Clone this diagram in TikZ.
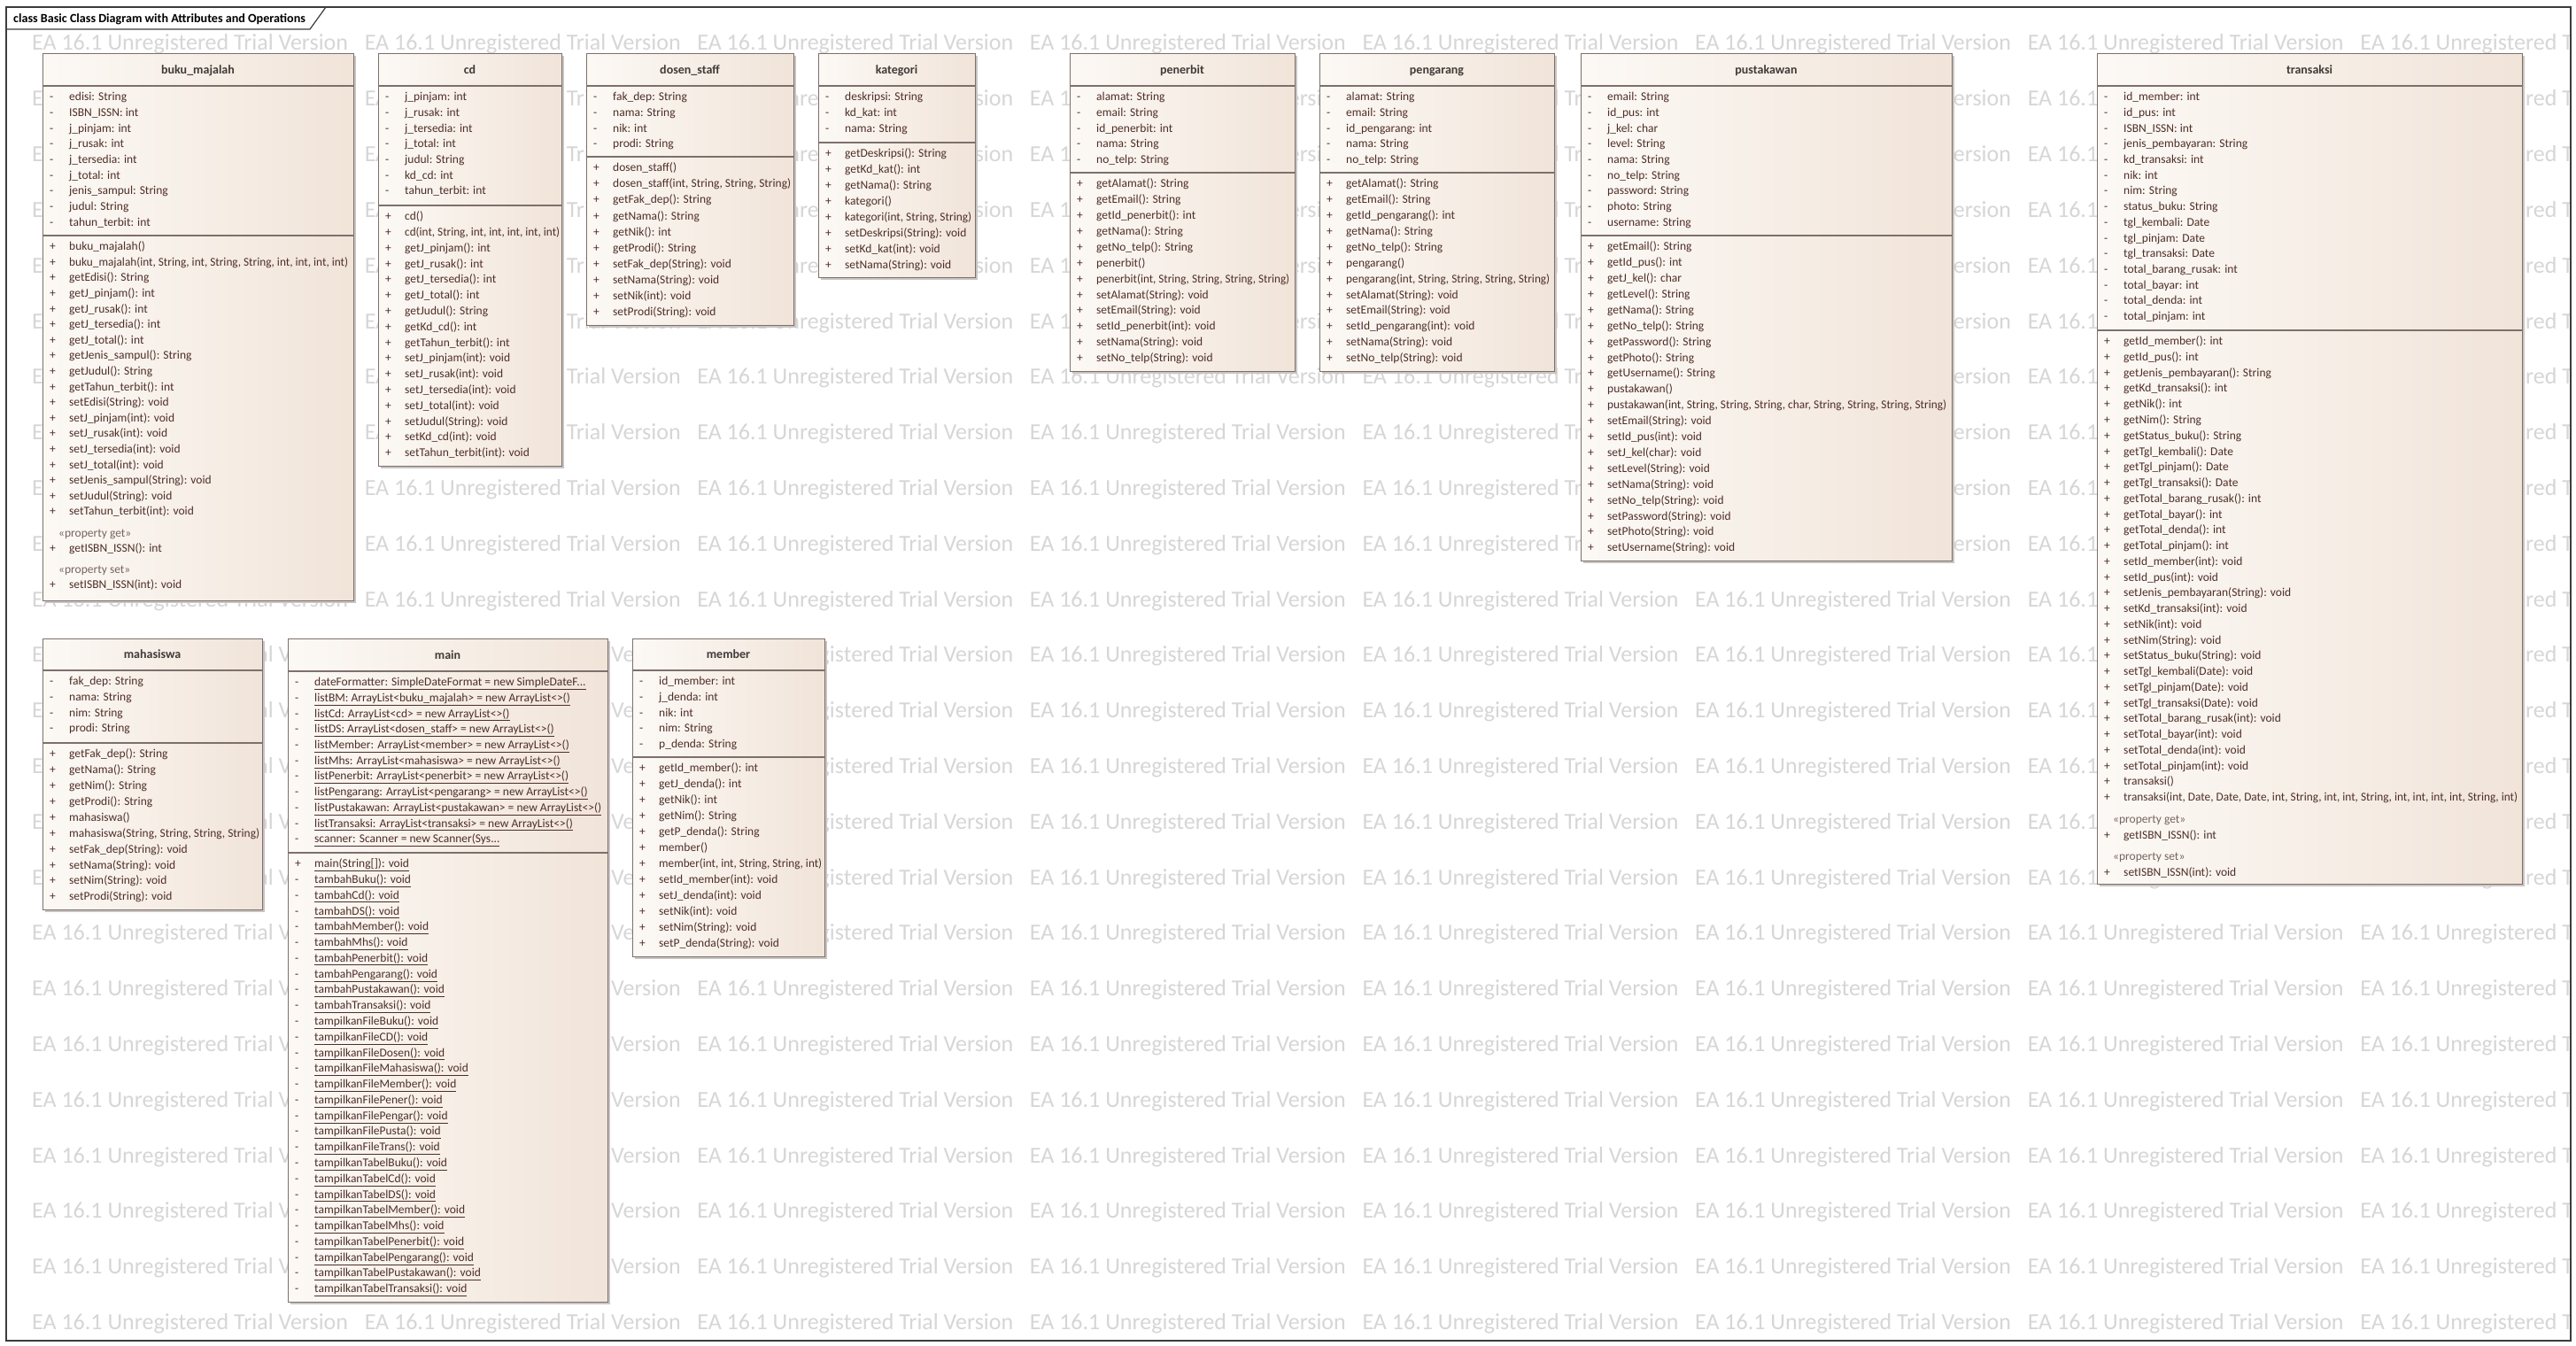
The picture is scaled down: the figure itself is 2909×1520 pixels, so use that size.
\documentclass[tikz,border=0pt]{standalone}
\usepackage{fontspec}
\usepackage{graphicx}
\setmainfont{Carlito}
\usetikzlibrary{calc}
\definecolor{memc}{RGB}{78,46,40}
\definecolor{titc}{RGB}{64,58,56}
\definecolor{stc}{RGB}{120,100,95}
\definecolor{bordc}{RGB}{125,112,108}
\definecolor{fillL}{RGB}{252,249,245}
\definecolor{fillR}{RGB}{241,228,217}
\definecolor{wmc}{RGB}{214,214,214}
\definecolor{shdc}{RGB}{200,196,194}
\definecolor{framec}{RGB}{60,60,60}

\newcommand\vneg{\makebox[22pt][l]{-}}
\newcommand\vpos{\makebox[22pt][l]{+}}
\newcommand\stereo[1]{\hspace*{10pt}\textcolor{stc}{«#1»}}
\newcommand\undl[1]{\underline{#1}}
\newcommand\fitw[2]{\resizebox{#1pt}{\height}{#2}}
\newcommand\wmone{\makebox[375.6pt][l]{EA 16.1 Unregistered Trial Version}}
\newcommand\wmline{\wmone\wmone\wmone\wmone\wmone\wmone\wmone\wmone}

\tikzset{
  clsbox/.style={draw=bordc, line width=1.2pt, left color=fillL, right color=fillR, inner sep=0pt},
  sepl/.style={draw=bordc, line width=1.2pt},
  clstitle/.style={text=titc, inner sep=0pt, font=\bfseries\fontsize{14}{16}\selectfont},
  memtext/.style={text=memc, inner sep=0pt, align=left},
  wmark/.style={text=wmc, inner sep=0pt, font=\fontsize{26}{30}\selectfont},
  framel/.style={draw=framec, line width=1.2pt},
  tabtext/.style={text=black, inner sep=0pt, font=\bfseries\fontsize{14.1}{16}\selectfont}
}

% name, xl, yt, xr, s1, s2, yb, title
\newcommand\umlbox[8]{%
  \fill[shdc] (#2+3,#3+3) rectangle (#4+3,#7+3);
  \node[clsbox, anchor=north west, minimum width={#4-#2}, minimum height={#7-#3}] (#1) at (#2,#3) {};
  \draw[sepl] (#2,#5) -- (#4,#5);
  \draw[sepl] (#2,#6) -- (#4,#6);
  \node[clstitle, anchor=base] (#1-title) at ({(#2+#4)/2},{(#3+#5)/2+4.5}) {#8};
}
% name, x, y, pitch, content
\newcommand\umllines[5]{%
  \node[memtext, anchor=north west, font=\fontsize{13.5}{#4}\selectfont] (#1) at (#2,#3) {\rule{0pt}{12.5pt}#5};
}

\begin{document}
\begin{tikzpicture}[x=1pt,y=-1pt]
\fill[white] (0,0) rectangle (2909,1520);
\useasboundingbox (0,0) rectangle (2909,1520);

% watermark
\begin{scope}
\clip (7,8) rectangle (2903,1514);
\foreach \k in {0,...,23}{
  \node[wmark, anchor=base west] (wm\k) at (36,{57+62.8*\k}) {\wmline};
}
\end{scope}

% frame and tab
\draw[framel] (7,8) rectangle (2903,1514);
\draw[framel] (7,33) -- (350,33) -- (368,8);
\node[tabtext, anchor=base west] (tabtitle) at (15,26) {class Basic Class Diagram with Attributes and Operations};

% buku_majalah
\umlbox{buku}{48}{60}{399}{97}{266}{678}{buku\_majalah}
\umllines{buku-attr}{56}{101}{17.7}{\vneg edisi: String\\
\vneg ISBN\_ISSN: int\\
\vneg j\_pinjam: int\\
\vneg j\_rusak: int\\
\vneg j\_tersedia: int\\
\vneg j\_total: int\\
\vneg jenis\_sampul: String\\
\vneg judul: String\\
\vneg tahun\_terbit: int}
\umllines{buku-ops}{56}{270}{17.6}{\vpos buku\_majalah()\\
\vpos \fitw{315}{buku\_majalah(int, String, int, String, String, int, int, int, int)}\\
\vpos getEdisi(): String\\
\vpos getJ\_pinjam(): int\\
\vpos getJ\_rusak(): int\\
\vpos getJ\_tersedia(): int\\
\vpos getJ\_total(): int\\
\vpos getJenis\_sampul(): String\\
\vpos getJudul(): String\\
\vpos getTahun\_terbit(): int\\
\vpos setEdisi(String): void\\
\vpos setJ\_pinjam(int): void\\
\vpos setJ\_rusak(int): void\\
\vpos setJ\_tersedia(int): void\\
\vpos setJ\_total(int): void\\
\vpos setJenis\_sampul(String): void\\
\vpos setJudul(String): void\\
\vpos setTahun\_terbit(int): void\\[6.5pt]
\stereo{property get}\\
\vpos getISBN\_ISSN(): int\\[6pt]
\stereo{property set}\\
\vpos setISBN\_ISSN(int): void}

% cd
\umlbox{cd}{427}{60}{634}{97}{232}{526}{cd}
\umllines{cd-attr}{435}{101}{17.7}{\vneg j\_pinjam: int\\
\vneg j\_rusak: int\\
\vneg j\_tersedia: int\\
\vneg j\_total: int\\
\vneg judul: String\\
\vneg kd\_cd: int\\
\vneg tahun\_terbit: int}
\umllines{cd-ops}{435}{236}{17.8}{\vpos cd()\\
\vpos \fitw{175}{cd(int, String, int, int, int, int, int)}\\
\vpos getJ\_pinjam(): int\\
\vpos getJ\_rusak(): int\\
\vpos getJ\_tersedia(): int\\
\vpos getJ\_total(): int\\
\vpos getJudul(): String\\
\vpos getKd\_cd(): int\\
\vpos getTahun\_terbit(): int\\
\vpos setJ\_pinjam(int): void\\
\vpos setJ\_rusak(int): void\\
\vpos setJ\_tersedia(int): void\\
\vpos setJ\_total(int): void\\
\vpos setJudul(String): void\\
\vpos setKd\_cd(int): void\\
\vpos setTahun\_terbit(int): void}

% dosen_staff
\umlbox{dosen}{662}{60}{896}{97}{177}{367}{dosen\_staff}
\umllines{dosen-attr}{670}{101}{17.7}{\vneg fak\_dep: String\\
\vneg nama: String\\
\vneg nik: int\\
\vneg prodi: String}
\umllines{dosen-ops}{670}{181}{18.1}{\vpos dosen\_staff()\\
\vpos \fitw{201}{dosen\_staff(int, String, String, String)}\\
\vpos getFak\_dep(): String\\
\vpos getNama(): String\\
\vpos getNik(): int\\
\vpos getProdi(): String\\
\vpos setFak\_dep(String): void\\
\vpos setNama(String): void\\
\vpos setNik(int): void\\
\vpos setProdi(String): void}

% kategori
\umlbox{kategori}{924}{60}{1101}{97}{161}{313}{kategori}
\umllines{kategori-attr}{932}{101}{17.7}{\vneg deskripsi: String\\
\vneg kd\_kat: int\\
\vneg nama: String}
\umllines{kategori-ops}{932}{165}{17.9}{\vpos getDeskripsi(): String\\
\vpos getKd\_kat(): int\\
\vpos getNama(): String\\
\vpos kategori()\\
\vpos \fitw{143}{kategori(int, String, String)}\\
\vpos setDeskripsi(String): void\\
\vpos setKd\_kat(int): void\\
\vpos setNama(String): void}

% penerbit
\umlbox{penerbit}{1208}{60}{1462}{97}{195}{419}{penerbit}
\umllines{penerbit-attr}{1216}{101}{17.7}{\vneg alamat: String\\
\vneg email: String\\
\vneg id\_penerbit: int\\
\vneg nama: String\\
\vneg no\_telp: String}
\umllines{penerbit-ops}{1216}{199}{17.9}{\vpos getAlamat(): String\\
\vpos getEmail(): String\\
\vpos getId\_penerbit(): int\\
\vpos getNama(): String\\
\vpos getNo\_telp(): String\\
\vpos penerbit()\\
\vpos \fitw{218}{penerbit(int, String, String, String, String)}\\
\vpos setAlamat(String): void\\
\vpos setEmail(String): void\\
\vpos setId\_penerbit(int): void\\
\vpos setNama(String): void\\
\vpos setNo\_telp(String): void}

% pengarang
\umlbox{pengarang}{1490}{60}{1755}{97}{195}{419}{pengarang}
\umllines{pengarang-attr}{1498}{101}{17.7}{\vneg alamat: String\\
\vneg email: String\\
\vneg id\_pengarang: int\\
\vneg nama: String\\
\vneg no\_telp: String}
\umllines{pengarang-ops}{1498}{199}{17.9}{\vpos getAlamat(): String\\
\vpos getEmail(): String\\
\vpos getId\_pengarang(): int\\
\vpos getNama(): String\\
\vpos getNo\_telp(): String\\
\vpos pengarang()\\
\vpos \fitw{230}{pengarang(int, String, String, String, String)}\\
\vpos setAlamat(String): void\\
\vpos setEmail(String): void\\
\vpos setId\_pengarang(int): void\\
\vpos setNama(String): void\\
\vpos setNo\_telp(String): void}

% pustakawan
\umlbox{pustakawan}{1785}{60}{2204}{97}{266}{633}{pustakawan}
\umllines{pustakawan-attr}{1793}{101}{17.7}{\vneg email: String\\
\vneg id\_pus: int\\
\vneg j\_kel: char\\
\vneg level: String\\
\vneg nama: String\\
\vneg no\_telp: String\\
\vneg password: String\\
\vneg photo: String\\
\vneg username: String}
\umllines{pustakawan-ops}{1793}{270}{17.9}{\vpos getEmail(): String\\
\vpos getId\_pus(): int\\
\vpos getJ\_kel(): char\\
\vpos getLevel(): String\\
\vpos getNama(): String\\
\vpos getNo\_telp(): String\\
\vpos getPassword(): String\\
\vpos getPhoto(): String\\
\vpos getUsername(): String\\
\vpos pustakawan()\\
\vpos \fitw{383}{pustakawan(int, String, String, String, char, String, String, String, String)}\\
\vpos setEmail(String): void\\
\vpos setId\_pus(int): void\\
\vpos setJ\_kel(char): void\\
\vpos setLevel(String): void\\
\vpos setNama(String): void\\
\vpos setNo\_telp(String): void\\
\vpos setPassword(String): void\\
\vpos setPhoto(String): void\\
\vpos setUsername(String): void}

% transaksi
\umlbox{transaksi}{2368}{60}{2848}{97}{373}{998}{transaksi}
\umllines{transaksi-attr}{2376}{101}{17.7}{\vneg id\_member: int\\
\vneg id\_pus: int\\
\vneg ISBN\_ISSN: int\\
\vneg jenis\_pembayaran: String\\
\vneg kd\_transaksi: int\\
\vneg nik: int\\
\vneg nim: String\\
\vneg status\_buku: String\\
\vneg tgl\_kembali: Date\\
\vneg tgl\_pinjam: Date\\
\vneg tgl\_transaksi: Date\\
\vneg total\_barang\_rusak: int\\
\vneg total\_bayar: int\\
\vneg total\_denda: int\\
\vneg total\_pinjam: int}
\umllines{transaksi-ops}{2376}{377}{17.76}{\vpos getId\_member(): int\\
\vpos getId\_pus(): int\\
\vpos getJenis\_pembayaran(): String\\
\vpos getKd\_transaksi(): int\\
\vpos getNik(): int\\
\vpos getNim(): String\\
\vpos getStatus\_buku(): String\\
\vpos getTgl\_kembali(): Date\\
\vpos getTgl\_pinjam(): Date\\
\vpos getTgl\_transaksi(): Date\\
\vpos getTotal\_barang\_rusak(): int\\
\vpos getTotal\_bayar(): int\\
\vpos getTotal\_denda(): int\\
\vpos getTotal\_pinjam(): int\\
\vpos setId\_member(int): void\\
\vpos setId\_pus(int): void\\
\vpos setJenis\_pembayaran(String): void\\
\vpos setKd\_transaksi(int): void\\
\vpos setNik(int): void\\
\vpos setNim(String): void\\
\vpos setStatus\_buku(String): void\\
\vpos setTgl\_kembali(Date): void\\
\vpos setTgl\_pinjam(Date): void\\
\vpos setTgl\_transaksi(Date): void\\
\vpos setTotal\_barang\_rusak(int): void\\
\vpos setTotal\_bayar(int): void\\
\vpos setTotal\_denda(int): void\\
\vpos setTotal\_pinjam(int): void\\
\vpos transaksi()\\
\vpos \fitw{445}{transaksi(int, Date, Date, Date, int, String, int, int, String, int, int, int, int, String, int)}\\[7pt]
\stereo{property get}\\
\vpos getISBN\_ISSN(): int\\[6.5pt]
\stereo{property set}\\
\vpos setISBN\_ISSN(int): void}

% mahasiswa
\umlbox{mahasiswa}{48}{721}{296}{757}{839}{1027}{mahasiswa}
\umllines{mahasiswa-attr}{56}{761}{17.7}{\vneg fak\_dep: String\\
\vneg nama: String\\
\vneg nim: String\\
\vneg prodi: String}
\umllines{mahasiswa-ops}{56}{843}{17.9}{\vpos getFak\_dep(): String\\
\vpos getNama(): String\\
\vpos getNim(): String\\
\vpos getProdi(): String\\
\vpos mahasiswa()\\
\vpos \fitw{215}{mahasiswa(String, String, String, String)}\\
\vpos setFak\_dep(String): void\\
\vpos setNama(String): void\\
\vpos setNim(String): void\\
\vpos setProdi(String): void}

% main
\umlbox{main}{325}{721}{686}{758}{963}{1470}{main}
\umllines{main-attr}{333}{762}{17.7}{\vneg\undl{dateFormatter: SimpleDateFormat = new SimpleDateF...}\\
\vneg\undl{listBM: ArrayList<buku\_majalah> = new ArrayList<>()}\\
\vneg\undl{listCd: ArrayList<cd> = new ArrayList<>()}\\
\vneg\undl{listDS: ArrayList<dosen\_staff> = new ArrayList<>()}\\
\vneg\undl{listMember: ArrayList<member> = new ArrayList<>()}\\
\vneg\undl{listMhs: ArrayList<mahasiswa> = new ArrayList<>()}\\
\vneg\undl{listPenerbit: ArrayList<penerbit> = new ArrayList<>()}\\
\vneg\undl{listPengarang: ArrayList<pengarang> = new ArrayList<>()}\\
\vneg\undl{listPustakawan: ArrayList<pustakawan> = new ArrayList<>()}\\
\vneg\undl{listTransaksi: ArrayList<transaksi> = new ArrayList<>()}\\
\vneg\undl{scanner: Scanner = new Scanner(Sys...}}
\umllines{main-ops}{333}{967}{17.78}{\vpos\undl{main(String[]): void}\\
\vneg\undl{tambahBuku(): void}\\
\vneg\undl{tambahCd(): void}\\
\vneg\undl{tambahDS(): void}\\
\vneg\undl{tambahMember(): void}\\
\vneg\undl{tambahMhs(): void}\\
\vneg\undl{tambahPenerbit(): void}\\
\vneg\undl{tambahPengarang(): void}\\
\vneg\undl{tambahPustakawan(): void}\\
\vneg\undl{tambahTransaksi(): void}\\
\vneg\undl{tampilkanFileBuku(): void}\\
\vneg\undl{tampilkanFileCD(): void}\\
\vneg\undl{tampilkanFileDosen(): void}\\
\vneg\undl{tampilkanFileMahasiswa(): void}\\
\vneg\undl{tampilkanFileMember(): void}\\
\vneg\undl{tampilkanFilePener(): void}\\
\vneg\undl{tampilkanFilePengar(): void}\\
\vneg\undl{tampilkanFilePusta(): void}\\
\vneg\undl{tampilkanFileTrans(): void}\\
\vneg\undl{tampilkanTabelBuku(): void}\\
\vneg\undl{tampilkanTabelCd(): void}\\
\vneg\undl{tampilkanTabelDS(): void}\\
\vneg\undl{tampilkanTabelMember(): void}\\
\vneg\undl{tampilkanTabelMhs(): void}\\
\vneg\undl{tampilkanTabelPenerbit(): void}\\
\vneg\undl{tampilkanTabelPengarang(): void}\\
\vneg\undl{tampilkanTabelPustakawan(): void}\\
\vneg\undl{tampilkanTabelTransaksi(): void}}

% member
\umlbox{member}{714}{721}{931}{757}{855}{1080}{member}
\umllines{member-attr}{722}{761}{17.7}{\vneg id\_member: int\\
\vneg j\_denda: int\\
\vneg nik: int\\
\vneg nim: String\\
\vneg p\_denda: String}
\umllines{member-ops}{722}{859}{18}{\vpos getId\_member(): int\\
\vpos getJ\_denda(): int\\
\vpos getNik(): int\\
\vpos getNim(): String\\
\vpos getP\_denda(): String\\
\vpos member()\\
\vpos \fitw{184}{member(int, int, String, String, int)}\\
\vpos setId\_member(int): void\\
\vpos setJ\_denda(int): void\\
\vpos setNik(int): void\\
\vpos setNim(String): void\\
\vpos setP\_denda(String): void}

\end{tikzpicture}
\end{document}
